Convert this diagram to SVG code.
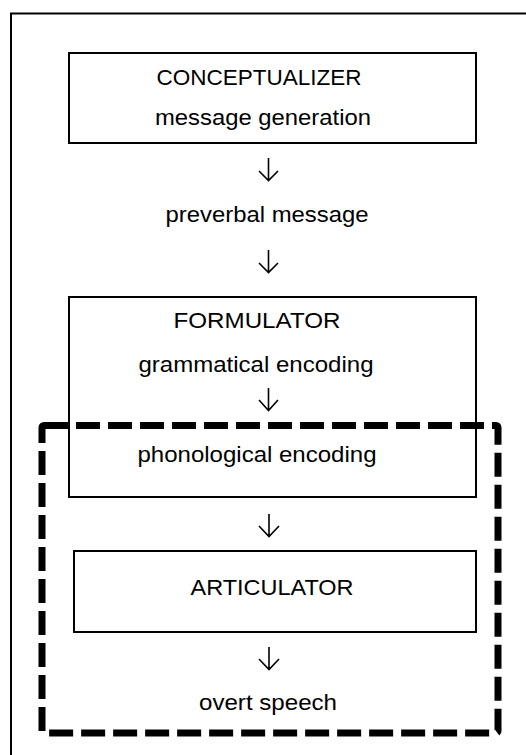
<svg xmlns="http://www.w3.org/2000/svg" width="526" height="755" viewBox="0 0 526 755">
<style>
.box{fill:none;stroke:#000;stroke-width:2}
.t{font-family:"Liberation Sans",Arial,sans-serif;font-size:22px;fill:#000;text-anchor:middle}
.arr{fill:none;stroke:#000;stroke-width:1.6}
</style>
<rect width="526" height="755" fill="#fff"/>
<rect x="11" y="13.5" width="530" height="760" class="box"/>
<g id="conceptualizer">
<rect x="69" y="53" width="407" height="90" class="box"/>
<text x="259" y="85" class="t" textLength="205" lengthAdjust="spacingAndGlyphs">CONCEPTUALIZER</text>
<text x="263" y="125" class="t" textLength="216" lengthAdjust="spacingAndGlyphs">message generation</text>
</g>
<g id="preverbal">
<text x="267" y="222" class="t" textLength="203" lengthAdjust="spacingAndGlyphs">preverbal message</text>
</g>
<g id="formulator">
<rect x="69" y="297" width="407" height="200" class="box"/>
<text x="257" y="328" class="t" textLength="167" lengthAdjust="spacingAndGlyphs">FORMULATOR</text>
<text x="256" y="372" class="t" textLength="235" lengthAdjust="spacingAndGlyphs">grammatical encoding</text>
<text x="257" y="462" class="t" textLength="239" lengthAdjust="spacingAndGlyphs">phonological  encoding</text>
</g>
<g id="articulator">
<rect x="74" y="551" width="402" height="81" class="box"/>
<text x="272" y="595" class="t" textLength="163" lengthAdjust="spacingAndGlyphs">ARTICULATOR</text>
</g>
<g id="overt">
<text x="268" y="710" class="t" textLength="138" lengthAdjust="spacingAndGlyphs">overt speech</text>
</g>
<g id="boundary">
<rect x="42" y="425.5" width="456" height="307.5" rx="2" fill="none" stroke="#000" stroke-width="7" stroke-dasharray="24 8"/>
</g>
<g id="connectors">
<path class="arr" d="M268.5 158V180M259 171L268.5 180.5L278 171"/>
<path class="arr" d="M268.5 250V272M259 263L268.5 272.5L278 263"/>
<path class="arr" d="M268.5 388V410M259 400L268.5 410.5L278 400"/>
<path class="arr" d="M269 514V536M259 526L269 536.5L279 526"/>
<path class="arr" d="M269 647V669M259 659L269 669.5L279 659"/>
</g>
</svg>
